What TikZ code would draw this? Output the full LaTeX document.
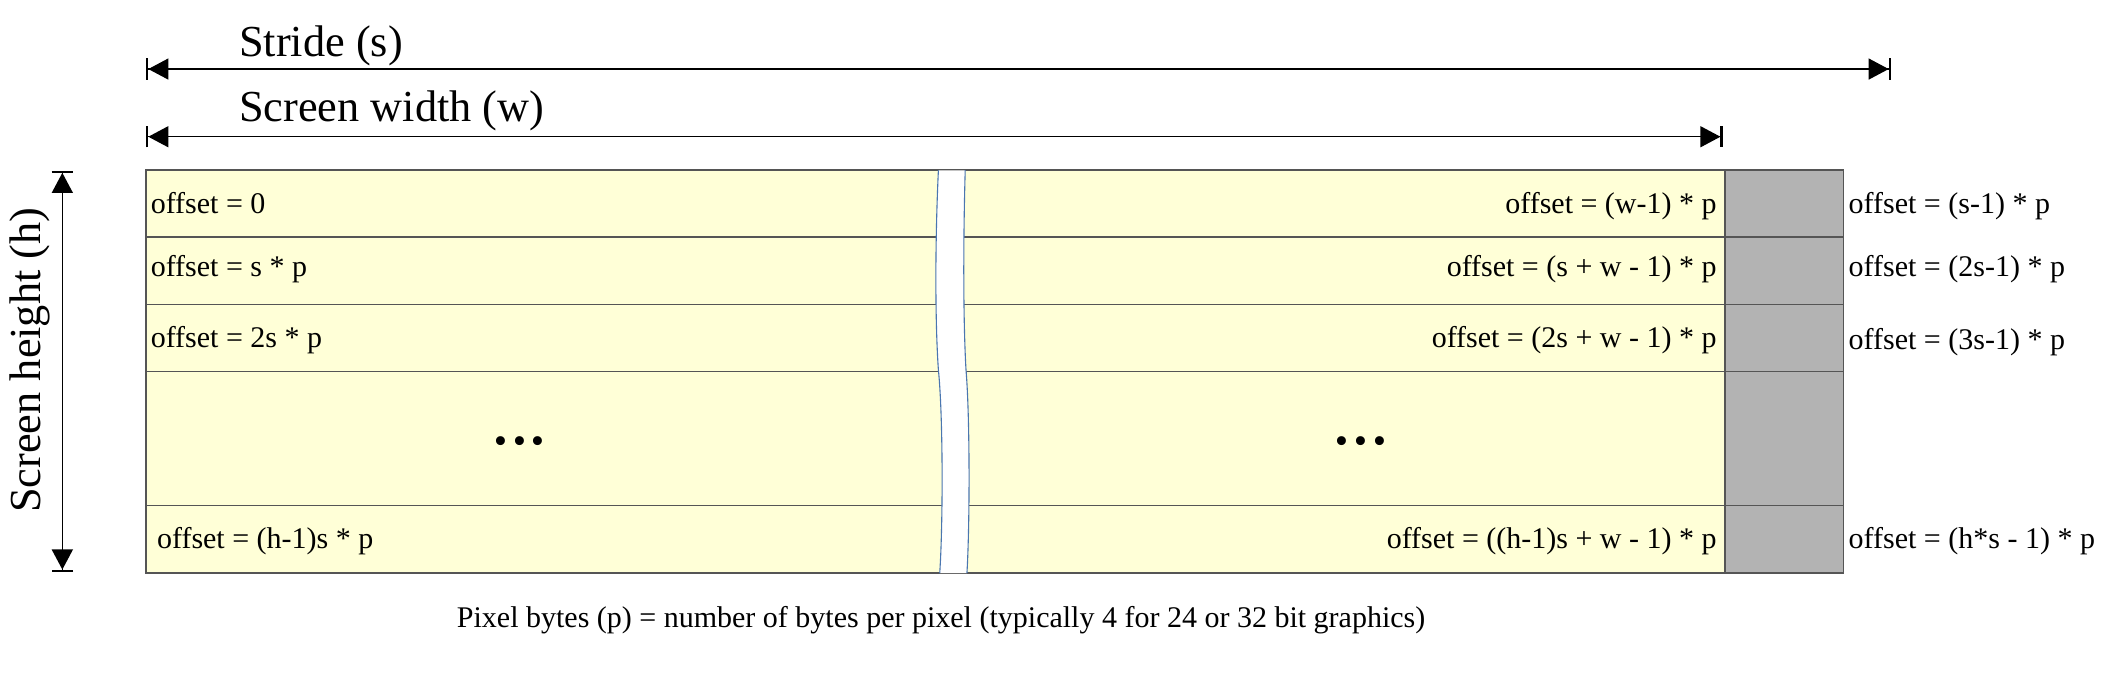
\documentclass[tikz,border=0pt]{standalone}
\usepackage{fontspec}
\setmainfont{Liberation Serif}
\usetikzlibrary{arrows.meta}

\definecolor{yellowfill}{HTML}{FFFFD7}
\definecolor{grayfill}{HTML}{B3B3B3}
\definecolor{linegray}{HTML}{555555}
\definecolor{stripblue}{HTML}{4A76B0}

\begin{document}
\begin{tikzpicture}[x=0.015cm, y=-0.015cm,
		label_style/.style={inner sep=0pt, font=\fontsize{9.55}{11}\selectfont},
		title_style/.style={inner sep=0pt, font=\fontsize{14.1}{16}\selectfont},
		dots_style/.style={inner sep=0pt, font=\fontsize{24}{26}\selectfont},
		dim_style/.style={line width=0.45pt,
			{Bar[width=6.8pt,line width=0.7pt]Triangle[length=6.4pt,width=6.7pt]}-{Triangle[length=6.4pt,width=6.7pt]Bar[width=6.8pt,line width=0.7pt]}},
		row_style/.style={draw=linegray, line width=0.5pt}]

		\useasboundingbox (0,0) rectangle (1568,502);

		% buffer
		\fill[yellowfill] (108.9,127) rectangle (1286.7,427.5);
		\fill[grayfill] (1286.7,127) rectangle (1375,427.5);
		\foreach \y in {177,227,277,377}
			\draw[row_style] (108.9,\y) -- (1375,\y);
		\draw[row_style] (1286.7,127) -- (1286.7,427.5);
		\draw[row_style] (108.9,127) rectangle (1375,427.5);

		% break in the rows
		\fill[white] (700,127) .. controls (697.5,180) and (697.5,240) .. (700,276)
			.. controls (703.5,310) and (703.5,390) .. (701,427.5)
			-- (721.3,427.5) .. controls (723.5,390) and (723.5,310) .. (720.6,276)
			.. controls (718.5,240) and (718.5,180) .. (720,127) -- cycle;
		\draw[stripblue, line width=0.35pt] (700,127) .. controls (697.5,180) and (697.5,240) .. (700,276)
			.. controls (703.5,310) and (703.5,390) .. (701,427.5);
		\draw[stripblue, line width=0.35pt] (720,127) .. controls (718.5,180) and (718.5,240) .. (720.6,276)
			.. controls (723.5,310) and (723.5,390) .. (721.3,427.5);

		% dimensions
		\coordinate (s_a) at (109,51.5);
		\coordinate (s_b) at (1410.5,51.5);
		\coordinate (w_a) at (109,102);
		\coordinate (w_b) at (1285,102);
		\coordinate (h_a) at (46.5,127.3);
		\coordinate (h_b) at (46.5,426.5);
		\draw[dim_style] (s_a) -- (s_b);
		\draw[dim_style] (w_a) -- (w_b);
		\draw[dim_style] (h_a) -- (h_b);

		\node[title_style, anchor=base west] (stride) at (178,42) {Stride (s)};
		\node[title_style, anchor=base west] (width) at (178,91) {Screen width (w)};
		\node[title_style, anchor=base, rotate=90] (height) at (30.5,268.7) {Screen height (h)};

		% offsets, first pixel of each row
		\node[label_style, anchor=base west] (o_00) at (112,159) {offset = 0};
		\node[label_style, anchor=base west] (o_10) at (112,206.5) {offset = s * p};
		\node[label_style, anchor=base west] (o_20) at (112,259) {offset = 2s * p};
		\node[label_style, anchor=base west] (o_h0) at (116.7,409) {offset = (h-1)s * p};

		% offsets, last pixel of each row
		\node[label_style, anchor=base east] (o_0w) at (1281,159) {offset = (w-1) * p};
		\node[label_style, anchor=base east] (o_1w) at (1281,206.5) {offset = (s + w - 1) * p};
		\node[label_style, anchor=base east] (o_2w) at (1281,259) {offset = (2s + w - 1) * p};
		\node[label_style, anchor=base east] (o_hw) at (1281,409) {offset = ((h-1)s + w - 1) * p};

		% offsets, end of stride
		\node[label_style, anchor=base west] (o_0s) at (1378.6,159) {offset = (s-1) * p};
		\node[label_style, anchor=base west] (o_1s) at (1378.6,206.5) {offset = (2s-1) * p};
		\node[label_style, anchor=base west] (o_2s) at (1378.6,261) {offset = (3s-1) * p};
		\node[label_style, anchor=base west] (o_hs) at (1378.6,409) {offset = (h*s - 1) * p};

		\node[dots_style] (dots_l) at (387.5,329) {...};
		\node[dots_style] (dots_r) at (1015,329) {...};

		\node[label_style, anchor=base] (caption) at (702,468) {Pixel bytes (p) = number of bytes per pixel (typically 4 for 24 or 32 bit graphics)};

\end{tikzpicture}
\end{document}
